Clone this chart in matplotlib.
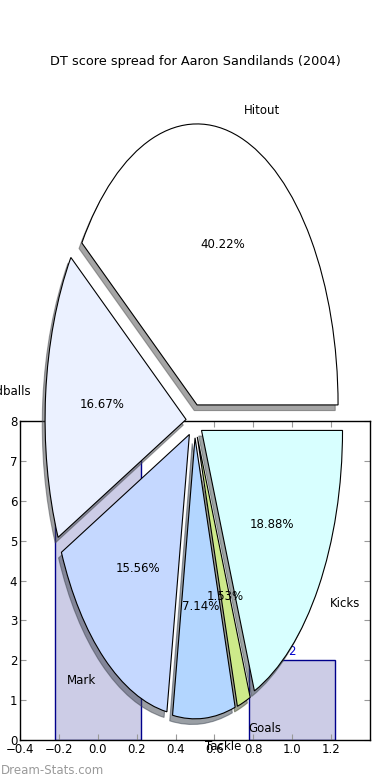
import matplotlib
matplotlib.use("Agg")
import matplotlib.pyplot as plt
from matplotlib.patches import Wedge
import numpy as np

# ---- data ----
title = "DT score spread for Aaron Sandilands (2004)"
pie_labels = ["Hitout", "Handballs", "Mark", "Tackle", "Goals", "Kicks"]
pie_values = [40.22, 16.67, 15.56, 7.14, 1.53, 18.88]
pie_colors = ["#FFFFFF", "#EBF1FF", "#C5D8FF", "#B3D6FF", "#CDEA8A", "#D8FFFF"]
bar_x = [0.0, 1.0]
bar_heights = [8, 2]
xtick_vals = [-0.4, -0.2, 0.0, 0.2, 0.4, 0.6, 0.8, 1.0, 1.2]
ytick_vals = [0, 1, 2, 3, 4, 5, 6, 7, 8]

W, H = 390, 780
fig = plt.figure(figsize=(W / 100, H / 100), dpi=100)
fs = 8.5

def rect(left, top, width, height):
    return [left / W, 1 - (top + height) / H, width / W, height / H]

# ---- bar axes ----
axb = fig.add_axes(rect(20, 421, 350, 319))
bars = axb.bar(bar_x, bar_heights, width=0.44, color="#CCCCE6",
               edgecolor="#00008B", linewidth=1.0)
for b, h in zip(bars, bar_heights):
    axb.text(b.get_x() + b.get_width() / 2, h + 0.05, "%d" % h,
             ha="center", va="bottom", color="#0000CC", fontsize=fs)
axb.set_xlim(-0.4, 1.4)
axb.set_ylim(0, 8)
axb.set_xticks(xtick_vals)
axb.set_xticklabels(["\u22120.4", "\u22120.2", "0.0", "0.2", "0.4", "0.6", "0.8", "1.0", "1.2"])
axb.set_yticks(ytick_vals)
axb.tick_params(direction="in", top=True, right=True, labelsize=fs,
                length=4, color="#999999", pad=2)
for s in axb.spines.values():
    s.set_linewidth(1.0)

# ---- pie axes ----
rx, ry = 141.0, 281.0
cx, cy = 194.5, 421.0
axp = fig.add_axes(rect(cx - 1.25 * rx, cy - 1.25 * ry, 2.5 * rx, 2.5 * ry))
axp.patch.set_alpha(0)

explode = [0.06] * len(pie_values)
wedges, texts, autotexts = axp.pie(
    pie_values, labels=pie_labels, colors=pie_colors, explode=explode,
    autopct="%1.2f%%", startangle=0, counterclock=True, normalize=True,
    labeldistance=1.1, pctdistance=0.6, frame=True,
    wedgeprops=dict(edgecolor="black", linewidth=0.8),
    textprops=dict(fontsize=fs))
axp.set_xlim(-1.25, 1.25)
axp.set_ylim(-1.25, 1.25)
axp.set_aspect("auto")
axp.axis("off")

# shadows
for w in wedges:
    fc = np.array(matplotlib.colors.to_rgb(w.get_facecolor())) * 0.3
    c = w.center
    sh = Wedge((c[0] - 0.02, c[1] - 0.02), w.r, w.theta1, w.theta2,
               facecolor=fc, edgecolor=fc, alpha=0.5, zorder=w.get_zorder() - 0.5,
               linewidth=0.8)
    axp.add_patch(sh)

fig.text(0.5, 1 - 61 / H, title, ha="center", va="center", fontsize=9.3)
fig.text(0.003, 1 - 770 / H, "Dream-Stats.com", ha="left", va="center",
         fontsize=8.5, color="#9A9A9A")

fig.savefig("out.png", dpi=100)
